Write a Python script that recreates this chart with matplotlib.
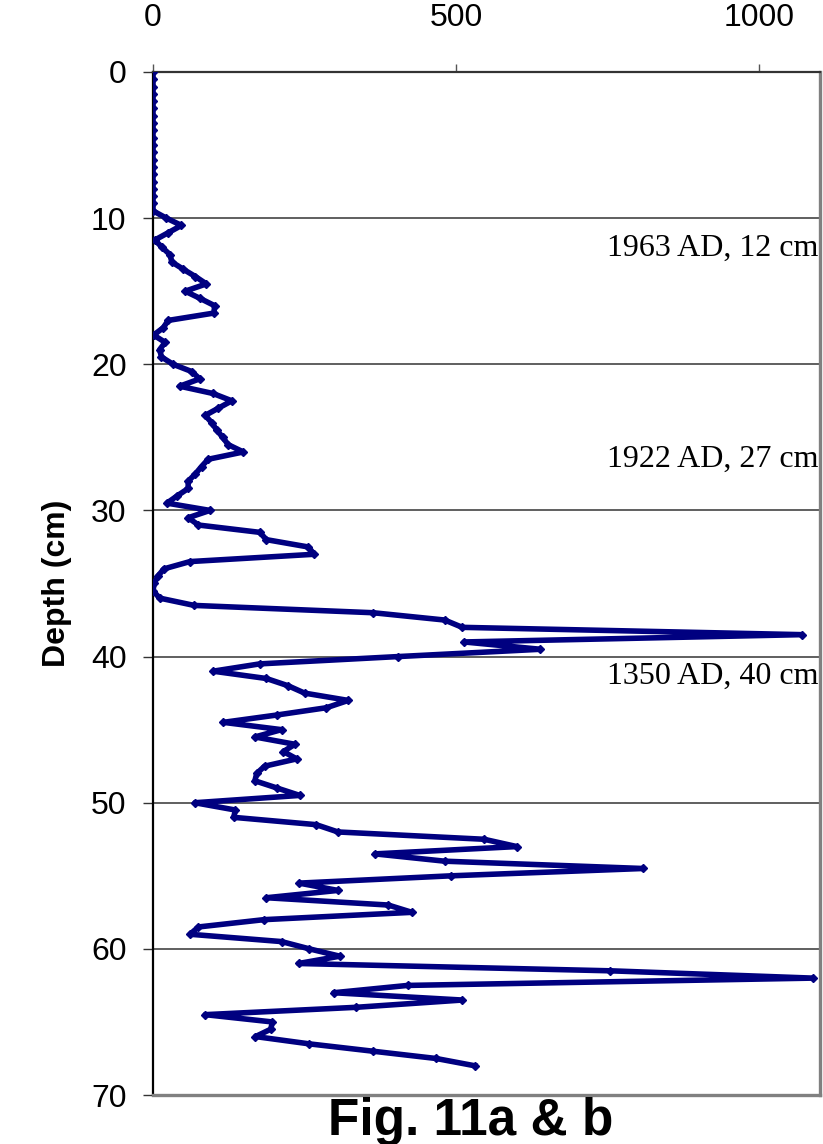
import matplotlib
matplotlib.use("Agg")
import matplotlib.pyplot as plt

# sediment core profile, depth in cm (0.5 cm slices)
depth = [0.0, 0.5, 1.0, 1.5, 2.0, 2.5, 3.0, 3.5, 4.0, 4.5,
         5.0, 5.5, 6.0, 6.5, 7.0, 7.5, 8.0, 8.5, 9.0, 9.5,
         10.0, 10.5, 11.0, 11.5, 12.0, 12.5, 13.0, 13.5, 14.0, 14.5,
         15.0, 15.5, 16.0, 16.5, 17.0, 17.5, 18.0, 18.5, 19.0, 19.5,
         20.0, 20.5, 21.0, 21.5, 22.0, 22.5, 23.0, 23.5, 24.0, 24.5,
         25.0, 25.5, 26.0, 26.5, 27.0, 27.5, 28.0, 28.5, 29.0, 29.5,
         30.0, 30.5, 31.0, 31.5, 32.0, 32.5, 33.0, 33.5, 34.0, 34.5,
         35.0, 35.5, 36.0, 36.5, 37.0, 37.5, 38.0, 38.5, 39.0, 39.5,
         40.0, 40.5, 41.0, 41.5, 42.0, 42.5, 43.0, 43.5, 44.0, 44.5,
         45.0, 45.5, 46.0, 46.5, 47.0, 47.5, 48.0, 48.5, 49.0, 49.5,
         50.0, 50.5, 51.0, 51.5, 52.0, 52.5, 53.0, 53.5, 54.0, 54.5,
         55.0, 55.5, 56.0, 56.5, 57.0, 57.5, 58.0, 58.5, 59.0, 59.5,
         60.0, 60.5, 61.0, 61.5, 62.0, 62.5, 63.0, 63.5, 64.0, 64.5,
         65.0, 65.5, 66.0, 66.5, 67.0, 67.5, 68.0]

values = [0, 0, 0, 0, 0, 0, 0, 0, 0, 0,
          0, 0, 0, 0, 0, 0, 0, 0, 0, 0,
          22, 47, 25, 3, 15, 28, 31, 50, 70, 88,
          53, 78, 102, 100, 25, 17, 1, 20, 11, 14,
          33, 64, 77, 44, 99, 130, 108, 86, 97, 105,
          115, 124, 149, 91, 80, 70, 58, 58, 40, 23,
          94, 58, 75, 176, 187, 256, 266, 61, 18, 8,
          2, 0, 11, 68, 363, 481, 510, 1070, 513, 639,
          404, 176, 99, 187, 223, 250, 322, 286, 204, 116,
          212, 168, 234, 215, 237, 184, 171, 168, 205, 242,
          69, 136, 133, 269, 305, 546, 600, 366, 481, 808,
          492, 241, 305, 187, 388, 427, 183, 75, 61, 212,
          258, 308, 240, 754, 1088, 420, 298, 510, 334, 86,
          197, 194, 169, 258, 363, 467, 531]

x_ticks = [0, 500, 1000]
y_ticks = [0, 10, 20, 30, 40, 50, 60, 70]

notes = ["1963 AD, 12 cm", "1922 AD, 27 cm", "1350 AD, 40 cm"]
note_depth = [12.6, 27.0, 41.85]

fig = plt.figure(figsize=(8.23, 11.44), dpi=100)
ax = fig.add_axes([0.1859, 0.0428, 0.8105, 0.8943])

ax.plot(values, depth, color="#000080", lw=4.0, marker="D", ms=3.8,
        solid_joinstyle="round", zorder=3)

ax.set_xlim(0, 1100)
ax.set_ylim(70, 0)
ax.set_xticks(x_ticks)
ax.set_yticks(y_ticks)
ax.xaxis.tick_top()
ax.tick_params(axis="x", direction="out", length=6, width=1, color="#555555",
               pad=22, labelsize=23)
ax.tick_params(axis="y", direction="out", length=7, width=1, color="#333333",
               pad=12, labelsize=23)
for lab in ax.get_xticklabels() + ax.get_yticklabels():
    lab.set_family("Liberation Sans")

ax.yaxis.grid(True, color="#444444", lw=1.2)
ax.set_axisbelow(True)

ax.spines["left"].set_color("black")
ax.spines["left"].set_linewidth(1.6)
ax.spines["top"].set_color("#333333")
ax.spines["top"].set_linewidth(1.6)
ax.spines["right"].set_color("#808080")
ax.spines["right"].set_linewidth(2.4)
ax.spines["bottom"].set_color("#808080")
ax.spines["bottom"].set_linewidth(2.4)

ax.set_ylabel("Depth (cm)", family="Liberation Sans", fontweight="bold",
              fontsize=23, labelpad=14)

for txt, d in zip(notes, note_depth):
    ax.text(0.997, d, txt, transform=ax.get_yaxis_transform(), ha="right",
            va="baseline", family="Liberation Serif", fontsize=23)

fig.text(0.572, 1 - 1135 / 1144, "Fig. 11a & b", ha="center", va="baseline",
         family="Liberation Sans", fontweight="bold", fontsize=37)

fig.savefig("out.png", dpi=100)
